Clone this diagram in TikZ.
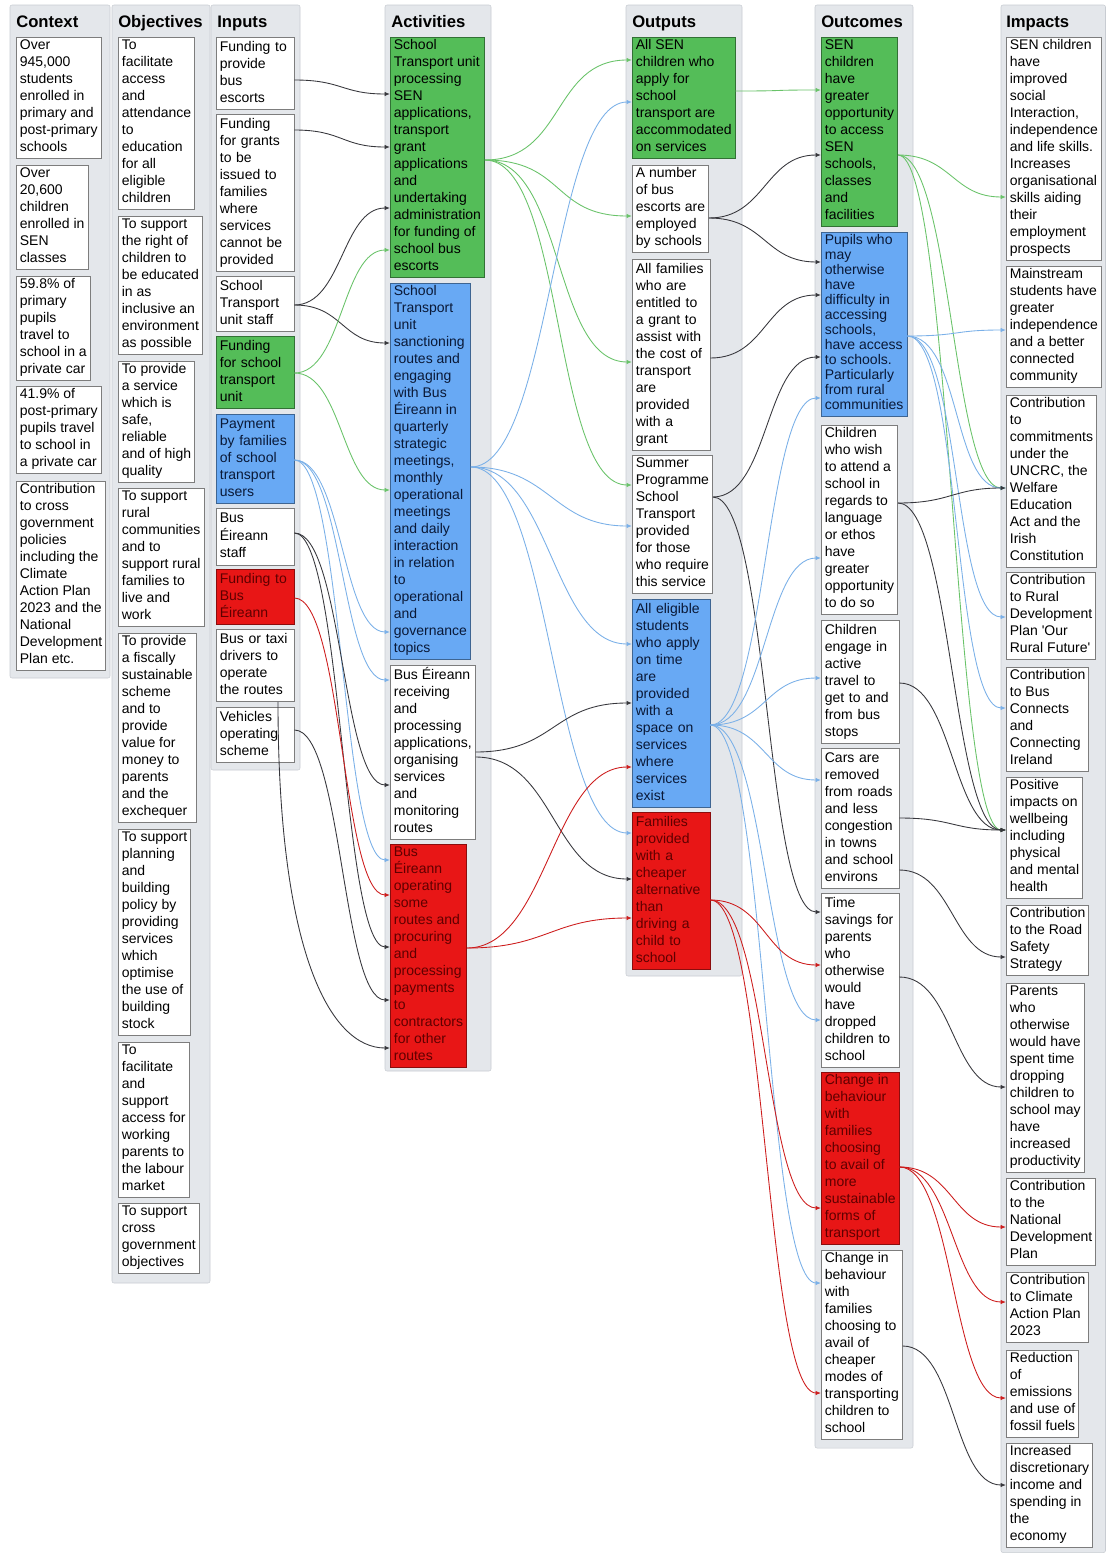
\documentclass[tikz,border=0pt]{standalone}
\usepackage{fontspec}
\setmainfont{Liberation Sans}
\usetikzlibrary{arrows.meta}

\definecolor{panelfill}{RGB}{228,231,235}
\definecolor{panelline}{RGB}{200,204,210}
\definecolor{boxline}{RGB}{125,125,125}
\definecolor{gfill}{RGB}{84,189,88}
\definecolor{bfill}{RGB}{104,169,244}
\definecolor{rfill}{RGB}{232,22,22}
\definecolor{btext}{RGB}{10,25,55}
\definecolor{rtext}{RGB}{95,0,0}
\definecolor{kline}{RGB}{55,55,60}
\definecolor{gline}{RGB}{105,195,105}
\definecolor{bline}{RGB}{122,176,232}
\definecolor{rline}{RGB}{205,28,28}

\begin{document}
\begin{tikzpicture}[x=0.75pt, y=-0.75pt,
    font=\fontsize{10.5}{12.75}\selectfont,
    panel/.style={draw=panelline, fill=panelfill, rounded corners=1.5pt},
    ttl/.style={anchor=base west, inner sep=0pt, font=\fontsize{12.5}{15}\selectfont\bfseries},
    box/.style={draw=boxline, fill=white, anchor=north west, align=left, line width=0.6pt,
                inner xsep=2.6pt, inner ysep=1.5pt,
                execute at begin node=\strut, execute at end node=\strut},
    wide/.style={text width=53pt},
    gbox/.style={box, fill=gfill, draw=gfill!60!black},
    bbox/.style={box, fill=bfill, draw=bfill!60!black, text=btext},
    rbox/.style={box, fill=rfill, draw=rfill!60!black, text=rtext},
    dep/.style={line width=0.65pt, out=0, in=180, -{Latex[length=4pt,width=3.2pt]}},
    kdep/.style={dep, draw=kline},
    gdep/.style={dep, draw=gline},
    bdep/.style={dep, draw=bline},
    rdep/.style={dep, draw=rline}]

  \useasboundingbox (0,0) rectangle (1106,1553);
  \fill[white] (0,0) rectangle (1106,1553);

  % columns
  \draw[panel] (10,5) rectangle (110,678);
  \draw[panel] (112,5) rectangle (210,1283);
  \draw[panel] (211,5) rectangle (300,770);
  \draw[panel] (385,5) rectangle (491,1071);
  \draw[panel] (626,5) rectangle (742,976);
  \draw[panel] (815,5) rectangle (913,1448);
  \draw[panel] (1001,5) rectangle (1105.5,1552.5);

  \node[ttl] (tctx) at (16,27) {Context};
  \node[ttl] (tobj) at (118,27) {Objectives};
  \node[ttl] (tinp) at (217,27) {Inputs};
  \node[ttl] (tact) at (391,27) {Activities};
  \node[ttl] (tout) at (632,27) {Outputs};
  \node[ttl] (tres) at (821,27) {Outcomes};
  \node[ttl] (timp) at (1006,27) {Impacts};

  % context
  \node[box] (C1) at (16,37) {Over\\945,000\\students\\enrolled in\\primary and\\post-primary\\schools};
  \node[box] (C2) at (16,165) {Over\\20,600\\children\\enrolled in\\SEN\\classes};
  \node[box] (C3) at (16,276) {59.8\% of\\primary\\pupils\\travel to\\school in a\\private car};
  \node[box] (C4) at (16,386) {41.9\% of\\post-primary\\pupils travel\\to school in\\a private car};
  \node[box] (C5) at (16,481) {Contribution\\to cross\\government\\policies\\including the\\Climate\\Action Plan\\2023 and the\\National\\Development\\Plan etc.};

  % objectives
  \node[box] (O1) at (118,37) {To\\facilitate\\access\\and\\attendance\\to\\education\\for all\\eligible\\children};
  \node[box] (O2) at (118,216) {To support\\the right of\\children to\\be educated\\in as\\inclusive an\\environment\\as possible};
  \node[box] (O3) at (118,361) {To provide\\a service\\which is\\safe,\\reliable\\and of high\\quality};
  \node[box] (O4) at (118,488) {To support\\rural\\communities\\and to\\support rural\\families to\\live and\\work};
  \node[box] (O5) at (118,633) {To provide\\a fiscally\\sustainable\\scheme\\and to\\provide\\value for\\money to\\parents\\and the\\exchequer};
  \node[box] (O6) at (118,829) {To support\\planning\\and\\building\\policy by\\providing\\services\\which\\optimise\\the use of\\building\\stock};
  \node[box] (O7) at (118,1042) {To\\facilitate\\and\\support\\access for\\working\\parents to\\the labour\\market};
  \node[box] (O8) at (118,1203) {To support\\cross\\government\\objectives};

  % inputs
  \node[box, wide] (I1) at (216,37) {Funding to\\provide\\bus\\escorts};
  \node[box, wide] (I2) at (216,114) {Funding\\for grants\\to be\\issued to\\families\\where\\services\\cannot be\\provided};
  \node[box, wide] (I3) at (216,276) {School\\Transport\\unit staff};
  \node[gbox, wide] (I4) at (216,336) {Funding\\for school\\transport\\unit};
  \node[bbox, wide] (I5) at (216,414) {Payment\\by families\\of school\\transport\\users};
  \node[box, wide] (I6) at (216,508) {Bus\\Éireann\\staff};
  \node[rbox, wide] (I7) at (216,569) {Funding to\\Bus\\Éireann};
  \node[box, wide] (I8) at (216,629) {Bus or taxi\\drivers to\\operate\\the routes};
  \node[box, wide] (I9) at (216,707) {Vehicles\\operating\\scheme};

  % activities
  \node[gbox] (A1) at (390,37) {School\\Transport unit\\processing\\SEN\\applications,\\transport\\grant\\applications\\and\\undertaking\\administration\\for funding of\\school bus\\escorts};
  \node[bbox] (A2) at (390,283) {School\\Transport\\unit\\sanctioning\\routes and\\engaging\\with Bus\\Éireann in\\quarterly\\strategic\\meetings,\\monthly\\operational\\meetings\\and daily\\interaction\\in relation\\to\\operational\\and\\governance\\topics};
  \node[box] (A3) at (390,665) {Bus Éireann\\receiving\\and\\processing\\applications,\\organising\\services\\and\\monitoring\\routes};
  \node[rbox] (A4) at (390,844) {Bus\\Éireann\\operating\\some\\routes and\\procuring\\and\\processing\\payments\\to\\contractors\\for other\\routes};

  % outputs
  \node[gbox] (P1) at (632,37) {All SEN\\children who\\apply for\\school\\transport are\\accommodated\\on services};
  \node[box] (P2) at (632,165) {A number\\of bus\\escorts are\\employed\\by schools};
  \node[box, wide] (P3) at (632,259) {All families\\who are\\entitled to\\a grant to\\assist with\\the cost of\\transport\\are\\provided\\with a\\grant};
  \node[box] (P4) at (632,455) {Summer\\Programme\\School\\Transport\\provided\\for those\\who require\\this service};
  \node[bbox, wide] (P5) at (632,599) {All eligible\\students\\who apply\\on time\\are\\provided\\with a\\space on\\services\\where\\services\\exist};
  \node[rbox, wide] (P6) at (632,812) {Families\\provided\\with a\\cheaper\\alternative\\than\\driving a\\child to\\school};

  % outcomes
  \node[gbox] (Q1) at (821,37) {SEN\\children\\have\\greater\\opportunity\\to access\\SEN\\schools,\\classes\\and\\facilities};
  \node[bbox, font=\fontsize{10.5}{11.25}\selectfont] (Q2) at (821,232) {Pupils who\\may\\otherwise\\have\\difficulty in\\accessing\\schools,\\have access\\to schools.\\Particularly\\from rural\\communities};
  \node[box] (Q3) at (821,425) {Children\\who wish\\to attend a\\school in\\regards to\\language\\or ethos\\have\\greater\\opportunity\\to do so};
  \node[box, wide] (Q4) at (821,620) {Children\\engage in\\active\\travel to\\get to and\\from bus\\stops};
  \node[box, wide] (Q5) at (821,748) {Cars are\\removed\\from roads\\and less\\congestion\\in towns\\and school\\environs};
  \node[box, wide] (Q6) at (821,893) {Time\\savings for\\parents\\who\\otherwise\\would\\have\\dropped\\children to\\school};
  \node[rbox] (Q7) at (821,1072) {Change in\\behaviour\\with\\families\\choosing\\to avail of\\more\\sustainable\\forms of\\transport};
  \node[box] (Q8) at (821,1250) {Change in\\behaviour\\with\\families\\choosing to\\avail of\\cheaper\\modes of\\transporting\\children to\\school};

  % impacts
  \node[box] (M1) at (1006,37) {SEN children\\have\\improved\\social\\Interaction,\\independence\\and life skills.\\Increases\\organisational\\skills aiding\\their\\employment\\prospects};
  \node[box] (M2) at (1006,266) {Mainstream\\students have\\greater\\independence\\and a better\\connected\\community};
  \node[box] (M3) at (1006,395) {Contribution\\to\\commitments\\under the\\UNCRC, the\\Welfare\\Education\\Act and the\\Irish\\Constitution};
  \node[box] (M4) at (1006,572) {Contribution\\to Rural\\Development\\Plan \textquotesingle Our\\Rural Future\textquotesingle};
  \node[box] (M5) at (1006,667) {Contribution\\to Bus\\Connects\\and\\Connecting\\Ireland};
  \node[box] (M6) at (1006,777) {Positive\\impacts on\\wellbeing\\including\\physical\\and mental\\health};
  \node[box] (M7) at (1006,905) {Contribution\\to the Road\\Safety\\Strategy};
  \node[box] (M8) at (1006,983) {Parents\\who\\otherwise\\would have\\spent time\\dropping\\children to\\school may\\have\\increased\\productivity};
  \node[box] (M9) at (1006,1178) {Contribution\\to the\\National\\Development\\Plan};
  \node[box] (M10) at (1006,1272) {Contribution\\to Climate\\Action Plan\\2023};
  \node[box] (M11) at (1006,1350) {Reduction\\of\\emissions\\and use of\\fossil fuels};
  \node[box] (M12) at (1006,1443) {Increased\\discretionary\\income and\\spending in\\the\\economy};

  % inputs -> activities
  \begin{scope}[distance=36pt]
  \draw[kdep] (I1.east |- 0,80) to (A1.west |- 0,94);
  \draw[kdep] (I2.east |- 0,130) to (A1.west |- 0,147);
  \draw[kdep] (I3.east |- 0,305) to (A1.west |- 0,208);
  \draw[kdep] (I3.east |- 0,305) to (A2.west |- 0,343);
  \draw[gdep] (I4.east |- 0,373) to (A1.west |- 0,250);
  \draw[gdep] (I4.east |- 0,373) to (A2.west |- 0,490);
  \draw[bdep] (I5.east |- 0,460) to (A2.west |- 0,632);
  \draw[bdep] (I5.east |- 0,460) to (A3.west |- 0,680);
  \draw[bdep] (I5.east |- 0,460) to (A4.west |- 0,860);
  \draw[kdep] (I6.east |- 0,533) to (A3.west |- 0,785);
  \draw[kdep] (I6.east |- 0,533) to (A4.west |- 0,947);
  \draw[rdep] (I7.east |- 0,598) to (A4.west |- 0,895);
  \draw[kdep] (I9.east |- 0,730) to (A4.west |- 0,1000);
  \draw[kdep] (I8.south -| 278,0) .. controls +(0,250) and +(-60,0) .. (A4.west |- 0,1048);
  \end{scope}

  % activities -> outputs
  \begin{scope}[distance=60pt]
  \draw[gdep] (A1.east |- 0,160) to (P1.west |- 0,60);
  \draw[gdep] (A1.east |- 0,160) to (P2.west |- 0,216);
  \draw[gdep] (A1.east |- 0,160) to (P3.west |- 0,362);
  \draw[gdep] (A1.east |- 0,160) to (P4.west |- 0,485);
  \draw[bdep] (A2.east |- 0,467) to (P1.west |- 0,102);
  \draw[bdep] (A2.east |- 0,467) to (P4.west |- 0,526);
  \draw[bdep] (A2.east |- 0,467) to (P5.west |- 0,644);
  \draw[bdep] (A2.east |- 0,467) to (P6.west |- 0,833);
  \draw[kdep] (A3.east |- 0,752) to (P5.west |- 0,703);
  \draw[kdep] (A3.east |- 0,757) to (P6.west |- 0,879);
  \draw[rdep] (A4.east |- 0,948) to (P5.west |- 0,767);
  \draw[rdep] (A4.east |- 0,948) to (P6.west |- 0,918);
  \end{scope}

  % outputs -> outcomes
  \begin{scope}[distance=42pt]
  \draw[gdep] (P1.east |- 0,91) to (Q1.west |- 0,90);
  \draw[kdep] (P2.east |- 0,218) to (Q1.west |- 0,155);
  \draw[kdep] (P2.east |- 0,218) to (Q2.west |- 0,262);
  \draw[kdep] (P3.east |- 0,358) to (Q2.west |- 0,295);
  \draw[kdep] (P4.east |- 0,497) to (Q2.west |- 0,357);
  \draw[kdep] (P4.east |- 0,497) to (Q6.west |- 0,912);
  \draw[bdep] (P5.east |- 0,725) to (Q2.west |- 0,398);
  \draw[bdep] (P5.east |- 0,725) to (Q3.west |- 0,558);
  \draw[bdep] (P5.east |- 0,725) to (Q4.west |- 0,678);
  \draw[bdep] (P5.east |- 0,725) to (Q5.west |- 0,780);
  \draw[bdep] (P5.east |- 0,725) to (Q6.west |- 0,1020);
  \draw[bdep] (P5.east |- 0,725) to (Q8.west |- 0,1283);
  \draw[rdep] (P6.east |- 0,900) to (Q6.west |- 0,965);
  \draw[rdep] (P6.east |- 0,900) to (Q7.west |- 0,1208);
  \draw[rdep] (P6.east |- 0,900) to (Q8.west |- 0,1393);
  \end{scope}

  % outcomes -> impacts
  \begin{scope}[distance=40pt]
  \draw[gdep] (Q1.east |- 0,155) to (M1.west |- 0,197);
  \draw[gdep] (Q1.east |- 0,155) to (M3.west |- 0,488);
  \draw[gdep] (Q1.east |- 0,155) to (M6.west |- 0,830);
  \draw[bdep] (Q2.east |- 0,336) to (M2.west |- 0,330);
  \draw[bdep] (Q2.east |- 0,336) to (M3.west |- 0,488);
  \draw[bdep] (Q2.east |- 0,336) to (M4.west |- 0,617);
  \draw[bdep] (Q2.east |- 0,336) to (M5.west |- 0,708);
  \draw[kdep] (Q3.east |- 0,503) to (M3.west |- 0,488);
  \draw[kdep] (Q3.east |- 0,503) to (M6.west |- 0,830);
  \draw[kdep] (Q4.east |- 0,683) to (M6.west |- 0,830);
  \draw[kdep] (Q5.east |- 0,818) to (M6.west |- 0,830);
  \draw[kdep] (Q5.east |- 0,870) to (M7.west |- 0,957);
  \draw[kdep] (Q6.east |- 0,977) to (M8.west |- 0,1087);
  \draw[rdep] (Q7.east |- 0,1167) to (M9.west |- 0,1227);
  \draw[rdep] (Q7.east |- 0,1167) to (M10.west |- 0,1302);
  \draw[rdep] (Q7.east |- 0,1167) to (M11.west |- 0,1398);
  \draw[kdep] (Q8.east |- 0,1346) to (M12.west |- 0,1485);
  \end{scope}
\end{tikzpicture}
\end{document}
